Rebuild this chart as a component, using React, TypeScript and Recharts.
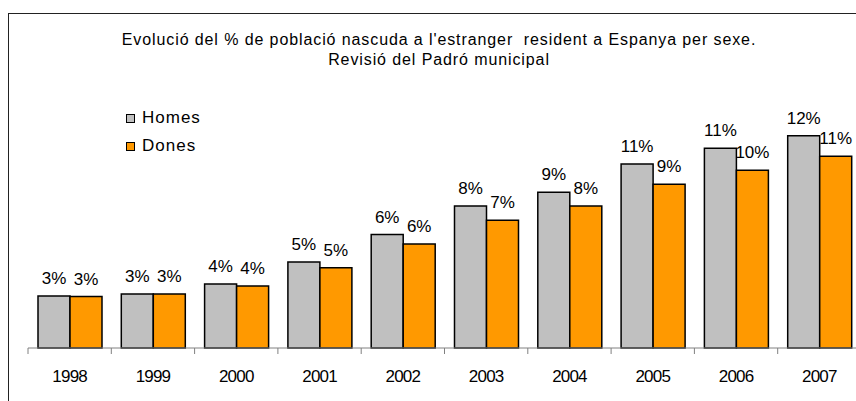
import React from "react";
import { BarChart, Bar, XAxis, YAxis, LabelList } from "recharts";

const years = ["1998", "1999", "2000", "2001", "2002", "2003", "2004", "2005", "2006", "2007"];
const homes = [2.97, 3.09, 3.66, 4.92, 6.48, 8.12, 8.9, 10.52, 11.42, 12.13];
const dones = [2.94, 3.09, 3.55, 4.58, 5.95, 7.3, 8.12, 9.36, 10.16, 10.96];

const seriesNames = ["Homes", "Dones"];
const seriesColors = ["#C0C0C0", "#FF9900"];

const titleLines = [
  "Evolució del % de població nascuda a l'estranger  resident a Espanya per sexe.",
  "Revisió del Padró municipal",
];

const FONT = "'Liberation Sans', Arial, sans-serif";
const CHART_W = 880;
const MARGIN = { top: 68, right: 19, left: 28, bottom: 13 };
const BAND = (CHART_W - MARGIN.left - MARGIN.right) / years.length;

const data = years.map((year, i) => ({ year, homes: homes[i], dones: dones[i] }));

const pct = (v: any) => `${Math.round(Number(v))}%`;

const YearTick = (props: any) => {
  const { x, y, payload, index } = props;
  const left = x - BAND / 2;
  return (
    <g>
      <line x1={left} y1={y} x2={left} y2={y + 6} stroke="#808080" strokeWidth={1} />
      {index === years.length - 1 && (
        <line x1={x + BAND / 2} y1={y} x2={x + BAND / 2} y2={y + 6} stroke="#808080" strokeWidth={1} />
      )}
      <text
        x={x}
        y={y + 34}
        textAnchor="middle"
        fontFamily={FONT}
        fontSize={17}
        letterSpacing={-0.8}
        fill="#000"
      >
        {payload.value}
      </text>
    </g>
  );
};

// legend drawn by hand so it does not eat into the plot area
const LegendBox = () => (
  <div
    style={{
      position: "absolute",
      left: 126,
      top: 104,
      fontFamily: FONT,
      fontSize: 17,
      letterSpacing: 1,
      color: "#000",
    }}
  >
    {seriesNames.map((name, i) => (
      <div key={name} style={{ display: "flex", alignItems: "center", height: 28 }}>
        <span
          style={{
            display: "inline-block",
            width: 7,
            height: 7,
            background: seriesColors[i],
            border: "1.5px solid #000",
            marginRight: 7,
          }}
        />
        <span>{name}</span>
      </div>
    ))}
  </div>
);

export default function App() {
  return (
    <div
      style={{
        position: "absolute",
        left: 0,
        top: 0,
        width: 856,
        height: 401,
        overflow: "hidden",
        background: "#fff",
      }}
    >
      <div
        style={{
          position: "absolute",
          left: 8,
          top: 13,
          width: 900,
          height: 500,
          borderTop: "1.5px solid #222",
          borderLeft: "1.5px solid #222",
        }}
      />
      <div
        style={{
          position: "absolute",
          left: 0,
          top: 30,
          width: 878,
          textAlign: "center",
          fontFamily: FONT,
          fontSize: 16,
          letterSpacing: 0.9,
          lineHeight: "20px",
          color: "#000",
        }}
      >
        {titleLines.map((t) => (
          <div key={t} style={{ whiteSpace: "pre" }}>
            {t}
          </div>
        ))}
      </div>
      <LegendBox />
      <div style={{ position: "absolute", left: 0, top: 0 }}>
        <BarChart
          width={CHART_W}
          height={401}
          data={data}
          margin={MARGIN}
          barCategoryGap={10}
          barGap={0}
        >
          <XAxis
            dataKey="year"
            height={40}
            axisLine={{ stroke: "#808080", strokeWidth: 1 }}
            tickLine={false}
            tickSize={0}
            tickMargin={0}
            tick={<YearTick />}
            interval={0}
          />
          <YAxis hide domain={[0, 16]} />
          <Bar dataKey="homes" name={seriesNames[0]} fill={seriesColors[0]} stroke="#000" strokeWidth={1.5} isAnimationActive={false}>
            <LabelList
              dataKey="homes"
              position="top"
              offset={12}
              formatter={pct}
              fontFamily={FONT}
              fontSize={17}
              fill="#000"
            />
          </Bar>
          <Bar dataKey="dones" name={seriesNames[1]} fill={seriesColors[1]} stroke="#000" strokeWidth={1.5} isAnimationActive={false}>
            <LabelList
              dataKey="dones"
              position="top"
              offset={12}
              formatter={pct}
              fontFamily={FONT}
              fontSize={17}
              fill="#000"
            />
          </Bar>
        </BarChart>
      </div>
    </div>
  );
}
